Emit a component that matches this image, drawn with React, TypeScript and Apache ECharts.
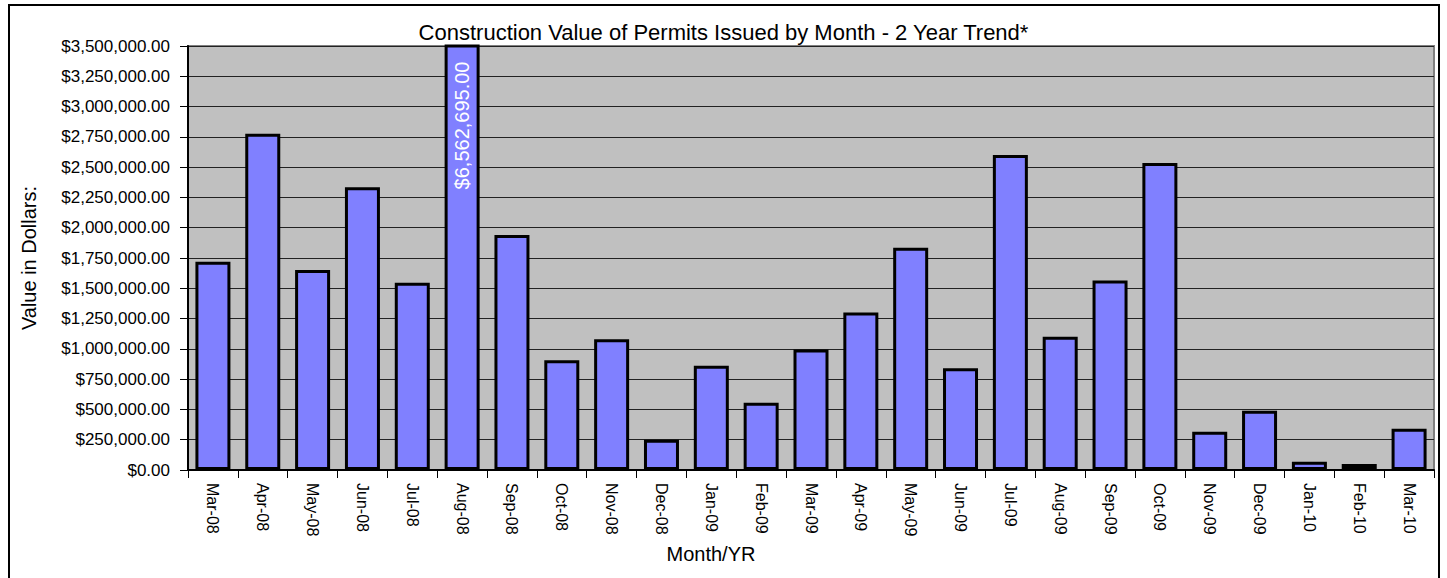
import React, { useEffect, useRef } from "react";
import * as echarts from "echarts";

const months = [
  "Mar-08", "Apr-08", "May-08", "Jun-08", "Jul-08", "Aug-08", "Sep-08", "Oct-08", "Nov-08", "Dec-08",
  "Jan-09", "Feb-09", "Mar-09", "Apr-09", "May-09", "Jun-09", "Jul-09", "Aug-09", "Sep-09", "Oct-09",
  "Nov-09", "Dec-09", "Jan-10", "Feb-10", "Mar-10",
];
const values = [
  1720000, 2775000, 1650000, 2335000, 1545000, 6562695, 1940000, 905000, 1080000, 250000,
  860000, 555000, 995000, 1300000, 1835000, 840000, 2600000, 1100000, 1565000, 2535000,
  315000, 490000, 68000, 50000, 340000,
];
const labelledMonth = "Aug-08";
const yTicks = { min: 0, max: 3500000, step: 250000 };

const FONT = "'Liberation Sans', Arial, sans-serif";
const money = (v: number) =>
  "$" + v.toLocaleString("en-US", { minimumFractionDigits: 2, maximumFractionDigits: 2 });

export default function App() {
  const ref = useRef<HTMLDivElement>(null);
  useEffect(() => {
    if (!ref.current) return;
    const chart = echarts.init(ref.current, undefined, { renderer: "svg" });
    chart.setOption({
      animation: false,
      backgroundColor: "#ffffff",
      title: {
        text: "Construction Value of Permits Issued by Month - 2 Year Trend*",
        left: "center",
        top: 16,
        textStyle: { fontFamily: FONT, fontSize: 22, fontWeight: "normal", color: "#000" },
      },
      graphic: [
        {
          type: "rect",
          shape: { x: 9, y: 5, width: 1430, height: 620 },
          style: { fill: "none", stroke: "#000", lineWidth: 2 },
          silent: true,
        },
        {
          type: "text",
          x: 711,
          y: 554,
          style: {
            text: "Month/YR",
            fontFamily: FONT,
            fontSize: 20,
            fill: "#000",
            align: "center",
            verticalAlign: "middle",
          },
          silent: true,
        },
      ],
      grid: {
        left: 188,
        top: 46,
        right: 13,
        bottom: 108,
        show: true,
        backgroundColor: "#C0C0C0",
        borderColor: "#808080",
        borderWidth: 2,
      },
      xAxis: {
        type: "category",
        data: months,
        axisLine: { show: true, lineStyle: { color: "#000", width: 2 } },
        axisTick: { show: true, length: 8, alignWithLabel: false, lineStyle: { color: "#000" } },
        axisLabel: {
          rotate: -90,
          margin: 13,
          interval: 0,
          fontFamily: FONT,
          fontSize: 16,
          color: "#000",
        },
        splitLine: { show: false },
      },
      yAxis: {
        type: "value",
        min: yTicks.min,
        max: yTicks.max,
        interval: yTicks.step,
        name: "Value in Dollars:",
        nameLocation: "middle",
        nameRotate: 90,
        nameGap: 149,
        nameTextStyle: { fontFamily: FONT, fontSize: 20, color: "#000" },
        axisLine: { show: true, lineStyle: { color: "#000", width: 2 } },
        axisTick: { show: true, length: 8, inside: false, lineStyle: { color: "#000" } },
        axisLabel: {
          margin: 18,
          fontFamily: FONT,
          fontSize: 17,
          color: "#000",
          formatter: (v: number) => money(v),
        },
        splitLine: { show: true, lineStyle: { color: "#222", width: 1 } },
      },
      series: [
        {
          type: "bar",
          data: values.map((v, i) => ({
            value: v,
            label:
              months[i] === labelledMonth
                ? {
                    show: true,
                    position: "insideTop",
                    distance: 17,
                    rotate: 90,
                    align: "right",
                    verticalAlign: "middle",
                    formatter: () => money(v),
                    fontFamily: FONT,
                    fontSize: 20,
                    color: "#ffffff",
                  }
                : { show: false },
          })),
          barWidth: 35,
          clip: true,
          itemStyle: { color: "#8080FF", borderColor: "#000", borderWidth: 3 },
        },
      ],
    });
    return () => chart.dispose();
  }, []);
  return (
    <div
      ref={ref}
      style={{ position: "absolute", left: 0, top: 0, width: 1447, height: 578 }}
    />
  );
}
